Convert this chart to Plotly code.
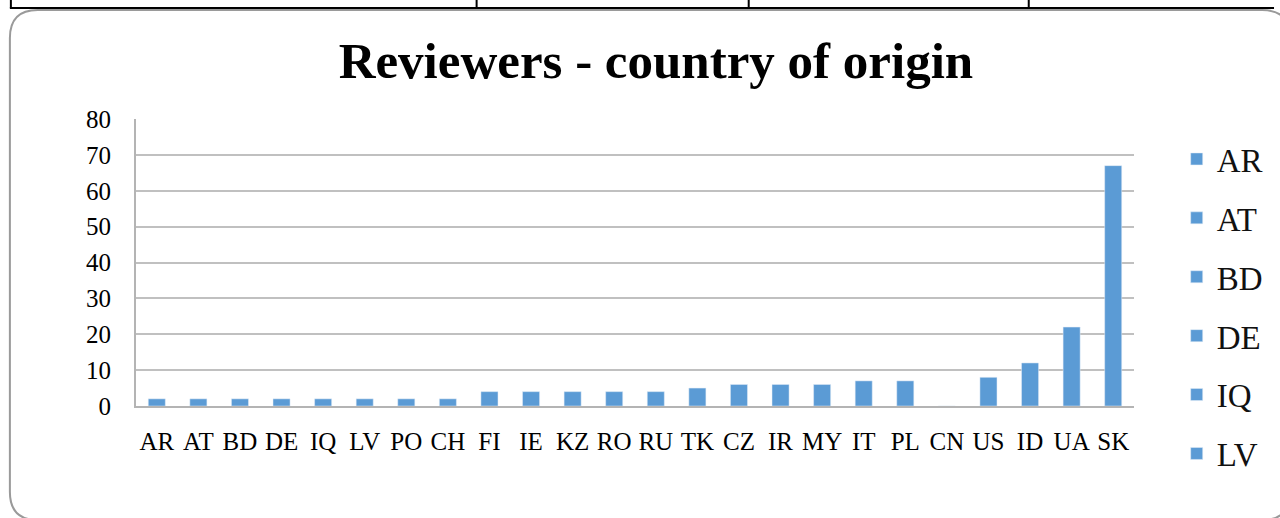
import plotly.graph_objects as go

categories = ["AR", "AT", "BD", "DE", "IQ", "LV", "PO", "CH", "FI", "IE", "KZ", "RO",
              "RU", "TK", "CZ", "IR", "MY", "IT", "PL", "CN", "US", "ID", "UA", "SK"]
values = [2, 2, 2, 2, 2, 2, 2, 2, 4, 4, 4, 4, 4, 5, 6, 6, 6, 7, 7, 0, 8, 12, 22, 67]
y_ticks = [0, 10, 20, 30, 40, 50, 60, 70, 80]
legend_visible = 6  # entries that fit inside the frame

W, H = 1280, 518
L, R, T, B = 136, 1141, 119, 406
BAR = "#5B9BD5"
FONT = "Liberation Serif"

def px(x):
    return (x - L) / (R - L)

def py(y):
    return (B - y) / (B - T)

fig = go.Figure()
for i, (c, v) in enumerate(zip(categories, values)):
    fig.add_trace(go.Bar(
        x=[c], y=[v], name=c, marker_color=BAR, width=0.41,
        showlegend=i < legend_visible, legendgroup=c,
        hoverinfo="x+y",
    ))

# rounded frame
r = 28
x0, y0, x1, y1 = 9, 10, 1298, 520
path = (f"M {px(x0)},{py(y0 + r)} Q {px(x0)},{py(y0)} {px(x0 + r)},{py(y0)} "
        f"L {px(x1 - r)},{py(y0)} Q {px(x1)},{py(y0)} {px(x1)},{py(y0 + r)} "
        f"L {px(x1)},{py(y1 - r)} Q {px(x1)},{py(y1)} {px(x1 - r)},{py(y1)} "
        f"L {px(x0 + r)},{py(y1)} Q {px(x0)},{py(y1)} {px(x0)},{py(y1 - r)} Z")
shapes = [dict(type="path", xref="paper", yref="paper", path=path,
               line=dict(color="#9A9A9A", width=2), layer="below")]
# table lines above
shapes.append(dict(type="line", xref="paper", yref="paper",
                   x0=px(9), x1=px(1282), y0=py(8), y1=py(8),
                   line=dict(color="black", width=2)))
for vx in [10, 479, 753, 1035]:
    shapes.append(dict(type="line", xref="paper", yref="paper",
                       x0=px(vx), x1=px(vx), y0=py(-2), y1=py(8),
                       line=dict(color="black", width=2)))

fig.update_layout(
    width=W, height=H,
    margin=dict(l=L, r=W - R, t=T, b=H - B),
    paper_bgcolor="white", plot_bgcolor="white",
    barmode="overlay",
    title=dict(text="<b>Reviewers - country of origin</b>", x=px(651), xanchor="center",
               y=1 - 60 / H, yanchor="middle",
               font=dict(family=FONT, size=51, color="black")),
    font=dict(family=FONT, color="black"),
    shapes=shapes,
    legend=dict(x=px(1184), xanchor="left", y=py(131), yanchor="top",
                font=dict(family=FONT, size=33, color="#111"),
                tracegroupgap=13, bgcolor="rgba(0,0,0,0)", itemwidth=30,
                maxheight=420),
    xaxis=dict(type="category", categoryorder="array", categoryarray=categories,
               showline=True, linecolor="#B4B4B4", linewidth=2,
               tickfont=dict(family=FONT, size=25, color="black"),
               ticks="", ticklabelstandoff=12, fixedrange=True),
    yaxis=dict(range=[0, 80], tickvals=y_ticks, showline=True, linecolor="#B4B4B4",
               linewidth=2, showgrid=True, gridcolor="#C0C0C0", gridwidth=1.5,
               zeroline=False,
               tickfont=dict(family=FONT, size=25, color="black"),
               ticks="", ticklabelstandoff=18, fixedrange=True),
)

fig.write_html("out.html", config={"displayModeBar": False},
               post_script="document.body.style.margin='0';")
